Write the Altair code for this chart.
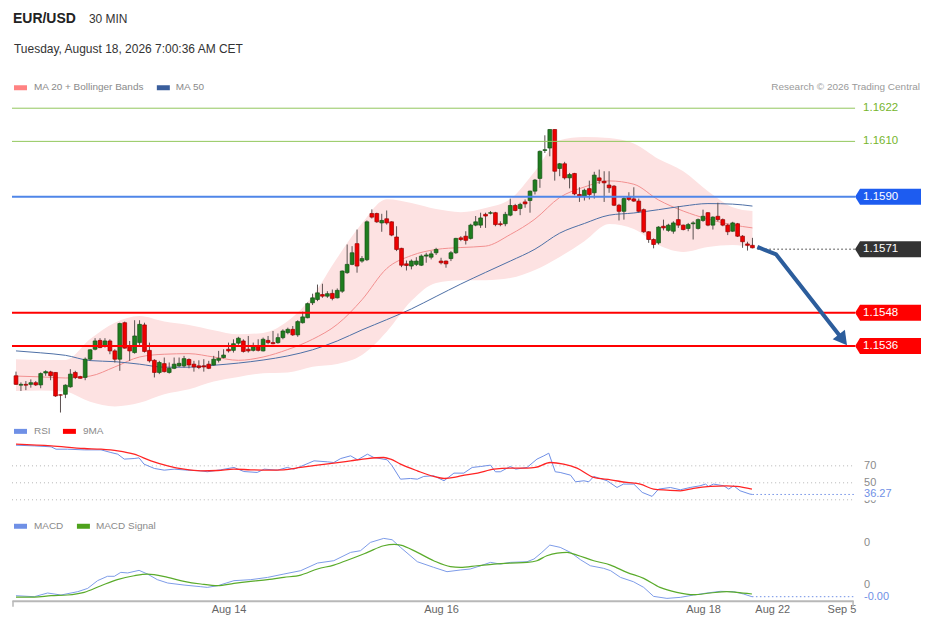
import altair as alt
import pandas as pd

FONT = "Liberation Sans, Arial, Helvetica, sans-serif"
BASE = 1.15      # the pip values below are measured upward from 1.1500
PIP = 0.0001

# ---------------- 30-minute candles (pips above 1.1500) ----------------
open_pips = [25.2, 21.8, 22.1, 22.1, 22.7, 21.9, 26.2, 26.6, 26.4, 18.3,
             18.5, 21.2, 26.4, 24.9, 24.6, 31.2, 34.8, 38.0, 36.0, 37.8,
             34.2, 31.2, 44.4, 36.0, 33.6, 37.2, 43.6, 34.4, 30.8, 26.4,
             29.6, 26.4, 27.9, 28.8, 28.8, 31.1, 29.4, 28.8, 28.8, 29.4,
             29.1, 30.8, 31.8, 34.8, 34.4, 37.0, 37.8, 34.8, 34.4, 36.0,
             34.2, 38.0, 37.2, 37.2, 39.0, 40.8, 42.0, 40.0, 44.4, 46.2,
             51.6, 52.8, 54.6, 54.0, 55.0, 53.4, 55.8, 62.5, 65.5, 73.0,
             66.7, 67.2, 83.9, 83.9, 80.5, 82.0, 80.9, 75.4, 71.3, 65.7,
             64.9, 65.5, 65.2, 68.5, 68.1, 69.7, 66.7, 66.7, 67.6, 69.7,
             75.1, 75.7, 74.9, 79.7, 79.7, 83.6, 84.0, 84.2, 80.2, 80.2,
             83.3, 86.8, 85.7, 88.1, 88.6, 92.0, 96.6, 106.7, 107.6, 114.3,
             100.2, 101.9, 96.8, 98.4, 90.8, 90.2, 92.9, 91.4, 96.8, 95.6,
             94.2, 93.8, 86.9, 84.7, 89.8, 89.2, 88.4, 85.3, 77.3, 74.5,
             73.3, 79.3, 77.8, 77.5, 81.7, 79.7, 78.5, 80.2, 78.5, 81.4,
             84.2, 79.7, 82.9, 81.7, 79.7, 77.5, 80.2, 75.7, 72.9, 72.4]
high_pips = [26.7, 22.8, 23.3, 23.9, 23.3, 26.4, 27.2, 27.0, 26.4, 18.5,
             22.1, 27.6, 27.0, 25.2, 31.8, 34.8, 38.8, 38.8, 38.8, 38.4,
             34.8, 44.4, 44.8, 37.8, 45.3, 45.3, 44.4, 37.2, 31.2, 30.6,
             31.8, 30.0, 31.8, 31.8, 32.4, 31.5, 30.6, 30.8, 31.2, 30.6,
             32.4, 34.2, 34.8, 37.2, 38.4, 39.3, 38.4, 39.6, 37.2, 38.4,
             39.0, 39.6, 41.4, 40.5, 42.0, 42.6, 43.2, 45.3, 48.4, 51.7,
             54.9, 58.2, 58.5, 55.8, 56.4, 56.8, 63.3, 72.7, 72.1, 78.1,
             68.5, 81.4, 85.4, 84.2, 83.8, 85.0, 81.1, 79.3, 71.5, 66.9,
             67.3, 68.1, 69.1, 69.7, 70.3, 71.5, 67.9, 66.9, 70.3, 75.1,
             75.7, 77.5, 80.2, 83.0, 84.2, 84.2, 84.8, 84.5, 81.1, 84.5,
             89.3, 87.4, 87.8, 89.0, 92.2, 96.4, 106.7, 112.2, 114.3, 114.3,
             102.2, 102.6, 98.6, 98.6, 93.4, 92.9, 95.8, 99.0, 99.8, 99.2,
             99.2, 94.2, 87.4, 89.8, 91.6, 93.4, 89.3, 85.7, 77.5, 74.9,
             79.3, 81.7, 80.2, 81.1, 86.6, 79.9, 80.5, 81.1, 82.1, 85.3,
             84.4, 82.9, 87.8, 82.1, 80.2, 80.9, 80.5, 76.1, 73.7, 75.1]
low_pips = [21.9, 19.7, 20.0, 20.9, 21.5, 20.7, 25.2, 23.6, 17.6, 11.9,
            17.1, 20.9, 24.0, 24.2, 23.6, 30.6, 34.4, 35.2, 35.4, 33.0,
            30.0, 27.0, 35.0, 30.6, 33.2, 36.0, 33.6, 30.0, 24.6, 25.8,
            26.4, 26.0, 27.6, 28.4, 28.2, 27.9, 26.7, 27.6, 26.7, 27.6,
            28.8, 30.0, 31.5, 33.6, 33.6, 36.4, 33.6, 33.6, 34.0, 34.0,
            34.0, 36.6, 36.6, 36.8, 38.4, 40.2, 39.6, 39.3, 44.1, 46.0,
            50.8, 52.2, 53.4, 53.4, 52.5, 53.2, 55.2, 62.1, 65.2, 62.5,
            66.1, 66.7, 82.1, 80.5, 77.3, 79.9, 75.7, 70.3, 64.5, 63.3,
            63.7, 64.9, 64.9, 66.1, 67.3, 68.9, 65.5, 64.3, 66.7, 69.3,
            73.9, 72.7, 74.5, 79.3, 78.7, 78.7, 83.6, 79.3, 79.3, 79.3,
            82.9, 84.7, 83.3, 86.0, 84.2, 90.8, 93.2, 105.8, 104.6, 95.8,
            97.4, 96.2, 93.0, 90.5, 88.1, 88.6, 89.0, 89.3, 94.6, 88.1,
            91.4, 86.6, 81.4, 81.7, 88.4, 88.1, 84.2, 76.9, 73.3, 71.3,
            72.7, 77.8, 77.3, 76.6, 78.7, 77.8, 77.5, 74.5, 78.1, 80.9,
            79.3, 78.1, 81.1, 79.3, 76.1, 77.3, 75.4, 71.5, 70.5, 71.3]
close_pips = [22.1, 22.1, 21.8, 22.7, 21.9, 26.0, 26.7, 25.2, 17.9, 18.2,
              21.8, 25.8, 24.6, 24.3, 31.2, 34.6, 37.8, 35.4, 37.8, 34.2,
              31.2, 44.1, 35.2, 34.2, 39.6, 43.8, 34.0, 30.6, 26.4, 30.0,
              26.7, 27.9, 29.4, 29.7, 31.4, 29.1, 28.4, 28.2, 28.4, 27.9,
              31.2, 31.5, 32.7, 34.2, 36.8, 38.8, 34.0, 34.2, 36.0, 34.4,
              38.4, 37.2, 36.8, 39.0, 41.4, 42.0, 40.0, 44.8, 46.5, 51.3,
              53.4, 55.2, 54.0, 54.9, 53.2, 56.1, 63.1, 65.5, 69.7, 64.9,
              67.6, 80.9, 82.6, 80.9, 81.4, 80.5, 76.1, 70.9, 65.2, 65.1,
              66.7, 66.7, 68.5, 68.9, 69.3, 70.9, 66.1, 65.7, 69.7, 74.9,
              74.5, 74.2, 79.7, 80.9, 82.3, 83.0, 84.2, 79.9, 79.9, 83.6,
              86.8, 85.0, 87.2, 87.4, 92.0, 96.0, 106.4, 107.0, 114.3, 99.2,
              101.9, 96.8, 98.0, 91.0, 90.2, 92.3, 90.8, 97.8, 95.8, 95.0,
              93.2, 86.9, 84.7, 89.3, 89.0, 88.4, 84.7, 77.3, 74.5, 72.7,
              79.0, 78.7, 79.7, 80.5, 79.7, 78.1, 79.9, 80.5, 81.7, 82.9,
              79.7, 82.6, 81.7, 79.7, 77.3, 80.5, 75.7, 73.7, 72.4, 71.5]

# ---------------- MA20 + Bollinger Bands, MA50 (read every 5 bars) ----------------
band_bar = [0, 5, 10, 15, 20, 25, 30, 35, 40, 45, 50, 55, 60, 65, 70, 75,
            80, 85, 90, 95, 100, 105, 110, 115, 120, 125, 130, 135, 140, 145, 149]
upper_pips = [31.2, 30.9, 30.9, 38.5, 44.4, 46.8, 44.8, 43.6, 41.7, 40.2, 40.7, 45.0, 54.1, 67.9, 80.4, 89.1,
              87.7, 85.5, 84.4, 85.9, 89.1, 99.2, 110.4, 111.6, 111.2, 109.2, 103.6, 99.2, 92.0, 86.2, 84.8]
lower_pips = [19.7, 19.9, 19.4, 15.8, 14.1, 15.4, 18.5, 20.3, 23.1, 24.8, 26.1, 26.4, 28.5, 29.5, 32.7, 41.1,
              52.3, 58.8, 59.8, 59.8, 60.6, 63.5, 68.2, 73.9, 80.1, 78.3, 72.5, 70.0, 71.8, 72.5, 71.6]
ma20_pips = [25.1, 24.8, 24.4, 25.1, 28.4, 32.0, 33.0, 33.2, 32.0, 30.8, 32.0, 34.7, 38.4, 43.8, 52.7, 64.0,
             68.7, 70.9, 71.6, 72.1, 76.3, 81.9, 89.7, 93.5, 95.7, 94.5, 88.8, 84.8, 81.9, 79.8, 78.7]
ma50_pips = [34.2, 33.5, 32.6, 30.7, 30.3, 29.4, 28.3, 28.3, 29.0, 29.8, 30.9, 32.4, 34.6, 37.8, 41.8, 45.5,
             49.4, 53.9, 58.4, 62.6, 66.7, 71.0, 76.8, 80.3, 83.3, 84.1, 85.3, 86.6, 87.5, 87.3, 86.6]

# ---------------- RSI and its 9-period MA ----------------
rsi_bar = [0, 3.7, 7.1, 8.1, 10.4, 13.8, 17.2, 19.2, 20.6, 21.9, 23.9, 24.9, 25.9, 28.0, 30.0,
           32.0, 34.7, 37.4, 38.7, 41.4, 44.1, 46.1, 48.8, 50.2, 52.9, 54.9, 56.2, 57.6, 60.3, 63.0,
           64.3, 65.7, 67.7, 69.1, 71.1, 72.4, 75.1, 76.1, 77.8, 79.8, 81.2, 82.5, 84.5, 86.6, 88.6,
           90.6, 92.3, 94.0, 96.0, 97.0, 98.0, 100.0, 101.1, 103.4, 105.4, 106.8, 107.8, 109.1, 110.1, 112.2,
           113.2, 114.9, 115.9, 116.9, 119.6, 121.6, 122.9, 125.0, 126.7, 128.7, 130.0, 132.4, 134.4, 136.4, 138.4,
           139.5, 140.1, 141.1, 143.2, 144.2, 145.2, 146.5, 148.5, 149]
rsi_val = [94.3, 93.5, 92.4, 89.6, 89.6, 88.8, 88.8, 85.7, 83.7, 77.9, 78.6, 79.4, 72.0, 66.9, 64.9,
           66.1, 64.9, 64.1, 63.0, 65.3, 68.1, 63.3, 62.2, 66.1, 64.9, 68.1, 66.1, 69.2, 75.9, 74.7,
           73.9, 78.6, 81.8, 77.1, 83.7, 79.8, 77.1, 70.0, 54.3, 55.1, 54.3, 57.5, 58.3, 52.4, 61.4,
           61.4, 68.1, 69.2, 70.8, 63.0, 63.0, 69.2, 66.1, 68.1, 77.9, 81.8, 84.9, 63.0, 62.2, 59.0,
           51.2, 52.4, 51.2, 57.5, 52.4, 44.5, 48.5, 48.5, 38.7, 34.0, 42.6, 44.5, 41.8, 44.5, 46.5,
           48.5, 45.7, 48.5, 46.5, 42.6, 46.5, 40.6, 36.7, 36.27]
rsi_ma_bar = [0, 7.1, 13.8, 17.2, 20.6, 23.9, 27.3, 30.7, 34.0, 37.4, 40.8, 44.1, 47.5, 50.9, 54.2, 57.6,
              61.0, 64.3, 67.7, 71.1, 74.4, 75.8, 77.8, 81.2, 84.5, 86.6, 88.6, 90.0, 93.4, 96.7, 100.0,
              103.4, 105.1, 108.1, 110.8, 113.5, 116.9, 120.3, 123.6, 126.3, 129.0, 131.7, 134.4, 137.1,
              140.5, 143.8, 145.8, 148.9]
rsi_ma_val = [95.5, 93.5, 90.4, 89.6, 87.6, 83.7, 75.9, 70.0, 66.1, 64.1, 64.5, 66.1, 65.3, 64.9, 65.3, 68.1,
              70.8, 73.2, 75.9, 78.6, 79.8, 77.9, 72.0, 64.1, 57.5, 55.1, 56.3, 58.3, 61.4, 66.1, 67.3,
              67.3, 68.1, 73.9, 72.0, 67.3, 56.3, 53.5, 50.4, 48.5, 42.6, 41.4, 40.6, 43.4,
              45.7, 46.5, 45.7, 42.6]
rsi_levels = [70, 50, 30]

# ---------------- MACD and signal (in units of 0.0001) ----------------
macd_bar = [0, 3.7, 6.4, 9.1, 12.5, 14.5, 16.5, 18.5, 19.9, 21.2, 22.6, 24.9, 26.6, 28.6, 30.7,
            34.0, 37.4, 38.7, 40.8, 44.1, 47.5, 50.9, 54.2, 57.6, 61.0, 64.3, 67.7, 69.7, 71.7, 74.4,
            76.1, 77.8, 81.2, 84.5, 87.2, 89.9, 91.9, 94.0, 96.0, 98.0, 100.0, 103.4, 104.8, 106.4, 108.0,
            110.1, 112.2, 114.2, 116.2, 118.9, 120.3, 122.3, 124.9, 127.0, 129.0, 131.7, 134.4, 137.1, 139.8,
            142.5, 145.2, 147.2, 148.9]
macd_val = [-1.31, -1.43, -0.99, -1.23, -0.83, -0.44, 0.48, 1.0, 1.0, 1.47, 1.40, 1.71, 1.27, 0.60, 0.20,
            -0.04, -0.24, -0.32, -0.12, 0.48, 0.60, 0.87, 1.27, 1.67, 2.58, 2.86, 3.85, 4.05, 5.04, 5.52,
            5.36, 4.45, 2.74, 2.07, 1.55, 1.75, 1.87, 2.26, 2.66, 2.46, 2.66, 2.74, 3.06, 3.85, 4.72,
            4.45, 3.85, 2.98, 2.26, 1.95, 1.67, 0.87, 0.36, -0.32, -1.39, -1.63, -1.51, -1.23, -0.99,
            -0.79, -0.83, -1.11, -1.43]
signal_bar = [0, 3.7, 7.1, 10.4, 13.8, 17.2, 20.5, 23.9, 26.6, 30.7, 34.0, 37.4, 40.8, 44.1, 47.5,
              50.9, 54.2, 57.6, 61.0, 64.3, 67.7, 71.1, 74.4, 76.5, 77.8, 81.2, 84.5, 87.9, 89.9, 93.3,
              96.7, 100.0, 103.4, 105.4, 107.4, 109.5, 111.5, 113.5, 116.9, 120.3, 123.6, 127.0, 130.3,
              133.7, 137.1, 140.5, 143.8, 145.8, 148.9]
signal_val = [-1.47, -1.47, -1.31, -1.23, -0.91, -0.12, 0.60, 1.07, 1.27, 0.87, 0.40, 0.08, -0.12, 0.16, 0.40,
              0.60, 0.87, 1.15, 1.87, 2.34, 3.06, 3.85, 4.64, 4.80, 4.72, 3.85, 2.86, 2.15, 2.07, 2.26,
              2.46, 2.58, 2.66, 2.86, 3.45, 3.77, 3.85, 3.53, 2.86, 2.34, 1.47, 0.75, -0.32,
              -0.91, -1.19, -0.99, -0.83, -0.91, -1.11]
macd_tick_vals = [0.0005, 0.0]

# ---------------- key levels and forecast ----------------
level_price = [1.1622, 1.1610, 1.1590, 1.1571, 1.1548, 1.1536]
level_role = ["resistance", "resistance", "pivot", "last", "support", "support"]
forecast_bar = [150, 153.8, 166.7]
forecast_price = [1.15718, 1.15691, 1.15396]
head_bar = [167.3]
head_price = [1.15382]

x_label_bar = [43, 86, 139, 153, 167]
x_label_text = ["Aug 14", "Aug 16", "Aug 18", "Aug 22", "Sep 5"]

# ---------------- styling ----------------
W = 842
H_HEAD, H_MAIN, H_RSI, H_MACD = 90, 318, 98, 86
X_DOMAIN = [-0.808, 169.36]
MAIN_DOMAIN = [1.151033, 1.162525]
RSI_DOMAIN = [12.35, 127.65]
MACD_DOMAIN = [-0.0001905, 0.0008333]
GREEN, GREEN_EDGE = "#1f7d1f", "#145214"
RED, RED_EDGE = "#ee0000", "#9a0000"
ROLE_LINE = {"resistance": "#92c75c", "pivot": "#4f86e8", "support": "#ff0000"}
ROLE_WIDTH = {"resistance": 1, "pivot": 2, "support": 2}
ROLE_TAG = {"pivot": "#1d5cf0", "last": "#333333", "support": "#ff0000"}
ROLE_TEXT = {"resistance": "#76b52c", "pivot": "#ffffff", "last": "#ffffff", "support": "#ffffff"}
TAG_PATH = "M -1 0 L -0.85 -0.2424 L 1 -0.2424 L 1 0.2424 L -0.85 0.2424 Z"
ARROW = "#2c5d9c"
RSI_BLUE = "#6f90e6"
LABEL_GREY = "#8a8a8a"


def price(v):
    return round(BASE + v * PIP, 6)


n_bars = len(close_pips)
candles = pd.DataFrame({
    "bar": list(range(n_bars)),
    "open": [price(v) for v in open_pips],
    "high": [price(v) for v in high_pips],
    "low": [price(v) for v in low_pips],
    "close": [price(v) for v in close_pips],
})
up = candles["close"] >= candles["open"]
candles["fill"] = [GREEN if u else RED for u in up]
candles["edge"] = [GREEN_EDGE if u else RED_EDGE for u in up]

bands = pd.DataFrame({
    "bar": band_bar,
    "upper": [price(v) for v in upper_pips],
    "lower": [price(v) for v in lower_pips],
    "ma20": [price(v) for v in ma20_pips],
    "ma50": [price(v) for v in ma50_pips],
})

levels = pd.DataFrame({"price": level_price, "role": level_role})
levels["label"] = [f"{p:.4f}" for p in level_price]
levels["text_color"] = [ROLE_TEXT[r] for r in level_role]
lines_df = levels[levels["role"] != "last"].copy()
lines_df["line_color"] = [ROLE_LINE[r] for r in lines_df["role"]]
lines_df["line_width"] = [ROLE_WIDTH[r] for r in lines_df["role"]]
tags_df = levels[levels["role"].isin(list(ROLE_TAG))].copy()
tags_df["tag_color"] = [ROLE_TAG[r] for r in tags_df["role"]]
last_df = pd.DataFrame({"bar": [n_bars], "price": [level_price[level_role.index("last")]]})

forecast = pd.DataFrame({"bar": forecast_bar, "price": forecast_price, "order": list(range(len(forecast_bar)))})
head = pd.DataFrame({"bar": head_bar, "price": head_price})

rsi_df = pd.DataFrame({"bar": rsi_bar, "v": rsi_val})
rsi_ma_df = pd.DataFrame({"bar": rsi_ma_bar, "v": rsi_ma_val})
rsi_lv = pd.DataFrame({"v": rsi_levels, "label": [str(v) for v in rsi_levels]})
rsi_last = pd.DataFrame({"bar": [rsi_bar[-1]], "v": [rsi_val[-1]], "label": [f"{rsi_val[-1]:.2f}"],
                         "hi": [rsi_val[-1] + 7], "lo": [rsi_val[-1] - 6.9]})

macd_df = pd.DataFrame({"bar": macd_bar, "v": [v * PIP for v in macd_val]})
sig_df = pd.DataFrame({"bar": signal_bar, "v": [v * PIP for v in signal_val]})
macd_ticks = pd.DataFrame({"v": macd_tick_vals, "label": [f"{v:.0f}" for v in macd_tick_vals]})
macd_last = pd.DataFrame({"bar": [macd_bar[-1]], "v": [macd_val[-1] * PIP],
                          "label": [f"{macd_val[-1] * PIP:.2f}"]})

one = pd.DataFrame({"k": [0]})

xs = alt.Scale(domain=X_DOMAIN, nice=False, zero=False, padding=0)
label_expr = " : ".join(f"datum.value == {b} ? '{t}'" for b, t in zip(x_label_bar, x_label_text)) + " : ''"
x_axis = alt.Axis(values=x_label_bar, labelExpr=label_expr, ticks=False, grid=False, title=None,
                  domainColor="#b8b8b8", domainWidth=2, labelColor="#666666", labelFontSize=11,
                  labelFont=FONT, labelPadding=3, labelFlush=False, labelOverlap=False)


def X(field="bar", axis=None):
    return alt.X(f"{field}:Q", scale=xs, axis=axis)


def Y(field, domain):
    return alt.Y(f"{field}:Q", scale=alt.Scale(domain=domain, nice=False, zero=False, padding=0), axis=None)


def text(t, x, y, size=11, color=LABEL_GREY, weight="normal", align="left"):
    return alt.Chart(one).mark_text(text=t, align=align, baseline="middle", fontSize=size, font=FONT,
                                    color=color, fontWeight=weight).encode(x=alt.value(x), y=alt.value(y))


def swatch(x, y, color, w=13, h=5):
    return alt.Chart(one).mark_rect(color=color).encode(
        x=alt.value(x), x2=alt.value(x + w), y=alt.value(y), y2=alt.value(y + h))


# ---------------- header ----------------
header = alt.layer(
    text("EUR/USD", 1, 10, size=14, color="#222222", weight="bold"),
    text("30 MIN", 77, 10, size=12, color="#333333"),
    text("Tuesday, August 18, 2026 7:00:36 AM CET", 2, 40, size=12, color="#333333"),
    swatch(2, 76, "#ff8282"),
    text("MA 20 + Bollinger Bands", 22, 78, size=10, color=LABEL_GREY),
    swatch(145, 76, "#3a5e9c"),
    text("MA 50", 164, 78, size=10, color=LABEL_GREY),
    text("Research \u00a9 2026 Trading Central", 909, 78, size=10, color="#9a9a9a", align="right"),
).properties(width=W, height=H_HEAD)

# ---------------- price panel ----------------
band_area = alt.Chart(bands).mark_area(color="#fde2e2", interpolate="monotone").encode(
    x=X(), y=Y("upper", MAIN_DOMAIN), y2="lower:Q")
ma20_line = alt.Chart(bands).mark_line(color="#f29090", strokeWidth=1, interpolate="monotone").encode(
    x=X(), y=Y("ma20", MAIN_DOMAIN))
ma50_line = alt.Chart(bands).mark_line(color="#4d6fa6", strokeWidth=1, interpolate="monotone").encode(
    x=X(), y=Y("ma50", MAIN_DOMAIN))
wicks = alt.Chart(candles).mark_rule(color="#5a5050", strokeWidth=1).encode(
    x=X(), y=Y("low", MAIN_DOMAIN), y2="high:Q")
bodies = alt.Chart(candles).mark_bar(size=3.8, strokeWidth=0.7).encode(
    x=X(), y=Y("open", MAIN_DOMAIN), y2="close:Q",
    fill=alt.Fill("fill:N", scale=None), stroke=alt.Stroke("edge:N", scale=None))
level_rules = alt.Chart(lines_df).mark_rule().encode(
    x=alt.value(0), x2=alt.value(844), y=Y("price", MAIN_DOMAIN),
    color=alt.Color("line_color:N", scale=None), strokeWidth=alt.StrokeWidth("line_width:Q", scale=None))
last_rule = alt.Chart(last_df).mark_rule(color="#333333", strokeWidth=1, strokeDash=[1.5, 2.5]).encode(
    x=X(), x2=alt.value(844), y=Y("price", MAIN_DOMAIN))
arrow_line = alt.Chart(forecast).mark_line(color=ARROW, strokeWidth=4, strokeJoin="round").encode(
    x=X(), y=Y("price", MAIN_DOMAIN), order="order:Q")
arrow_head = alt.Chart(head).mark_point(shape="triangle-up", angle=142, size=240, filled=True,
                                        opacity=1, color=ARROW, strokeWidth=0).encode(
    x=X(), y=Y("price", MAIN_DOMAIN))
tags = alt.Chart(tags_df).mark_point(shape=TAG_PATH, size=4356, filled=True, opacity=1, strokeWidth=0).encode(
    x=alt.value(877), y=Y("price", MAIN_DOMAIN), fill=alt.Fill("tag_color:N", scale=None))
tag_text = alt.Chart(levels).mark_text(align="left", baseline="middle", fontSize=11.5, font=FONT).encode(
    x=alt.value(852), y=Y("price", MAIN_DOMAIN), text="label:N", color=alt.Color("text_color:N", scale=None))

main = alt.layer(band_area, ma20_line, ma50_line, wicks, bodies, level_rules, last_rule,
                 arrow_line, arrow_head, tags, tag_text).properties(width=W, height=H_MAIN)

# ---------------- RSI panel ----------------
rsi_rules = alt.Chart(rsi_lv).mark_rule(color="#b5b5b5", strokeWidth=1, strokeDash=[1, 3]).encode(
    x=alt.value(0), x2=alt.value(842), y=Y("v", RSI_DOMAIN))
rsi_line = alt.Chart(rsi_df).mark_line(color=RSI_BLUE, strokeWidth=1).encode(x=X(), y=Y("v", RSI_DOMAIN))
rsi_ma_line = alt.Chart(rsi_ma_df).mark_line(color="#ff2424", strokeWidth=1.3, interpolate="monotone").encode(
    x=X(), y=Y("v", RSI_DOMAIN))
rsi_ext = alt.Chart(rsi_last).mark_rule(color=RSI_BLUE, strokeWidth=1, strokeDash=[1.5, 2.5]).encode(
    x=X(), x2=alt.value(844), y=Y("v", RSI_DOMAIN))
rsi_lv_text = alt.Chart(rsi_lv).mark_text(align="left", baseline="middle", fontSize=11, font=FONT,
                                          color=LABEL_GREY).encode(
    x=alt.value(853), y=Y("v", RSI_DOMAIN), text="label:N")
rsi_mask = alt.Chart(rsi_last).mark_rect(color="white").encode(
    x=alt.value(851), x2=alt.value(895), y=Y("hi", RSI_DOMAIN), y2="lo:Q")
rsi_last_text = alt.Chart(rsi_last).mark_text(align="left", baseline="middle", fontSize=11, font=FONT,
                                              color=RSI_BLUE).encode(
    x=alt.value(853), y=Y("v", RSI_DOMAIN), text="label:N")
rsi_panel = alt.layer(
    rsi_rules, rsi_line, rsi_ma_line, rsi_ext, rsi_lv_text, rsi_mask, rsi_last_text,
    swatch(2, 12, RSI_BLUE), text("RSI", 22, 14, size=10),
    swatch(51, 12, "#ff0000"), text("9MA", 71, 14, size=10),
).properties(width=W, height=H_RSI)

# ---------------- MACD panel ----------------
macd_line = alt.Chart(macd_df).mark_line(color="#7d9ce8", strokeWidth=1).encode(
    x=X(axis=x_axis), y=Y("v", MACD_DOMAIN))
sig_line = alt.Chart(sig_df).mark_line(color="#5aab2b", strokeWidth=1.2, interpolate="monotone").encode(
    x=X(axis=x_axis), y=Y("v", MACD_DOMAIN))
macd_ext = alt.Chart(macd_last).mark_rule(color=RSI_BLUE, strokeWidth=1, strokeDash=[1.5, 2.5]).encode(
    x=X(axis=x_axis), x2=alt.value(844), y=Y("v", MACD_DOMAIN))
macd_tick_text = alt.Chart(macd_ticks).mark_text(align="left", baseline="middle", fontSize=11, font=FONT,
                                                 color=LABEL_GREY).encode(
    x=alt.value(853), y=Y("v", MACD_DOMAIN), text="label:N")
macd_last_text = alt.Chart(macd_last).mark_text(align="left", baseline="middle", fontSize=11, font=FONT,
                                                color=RSI_BLUE).encode(
    x=alt.value(853), y=Y("v", MACD_DOMAIN), text="label:N")
end_ticks = alt.layer(
    alt.Chart(one).mark_rule(color="#b8b8b8", strokeWidth=1.5).encode(
        x=alt.value(1), y=alt.value(H_MACD), y2=alt.value(H_MACD + 6)),
    alt.Chart(one).mark_rule(color="#b8b8b8", strokeWidth=1.5).encode(
        x=alt.value(842), y=alt.value(H_MACD), y2=alt.value(H_MACD + 6)),
)
macd_panel = alt.layer(
    macd_line, sig_line, macd_ext, macd_tick_text, macd_last_text, end_ticks,
    swatch(2, 9, "#6f90e6"), text("MACD", 22, 11, size=10),
    swatch(65, 9, "#4ea21c"), text("MACD Signal", 84, 11, size=10),
).properties(width=W, height=H_MACD)

chart = alt.vconcat(header, main, rsi_panel, macd_panel, spacing=0).properties(
    padding={"left": 3, "top": 1, "right": 0, "bottom": 0}, background="white"
).configure_view(stroke=None)

chart.save("out.html", embed_options={"renderer": "svg", "actions": False})
